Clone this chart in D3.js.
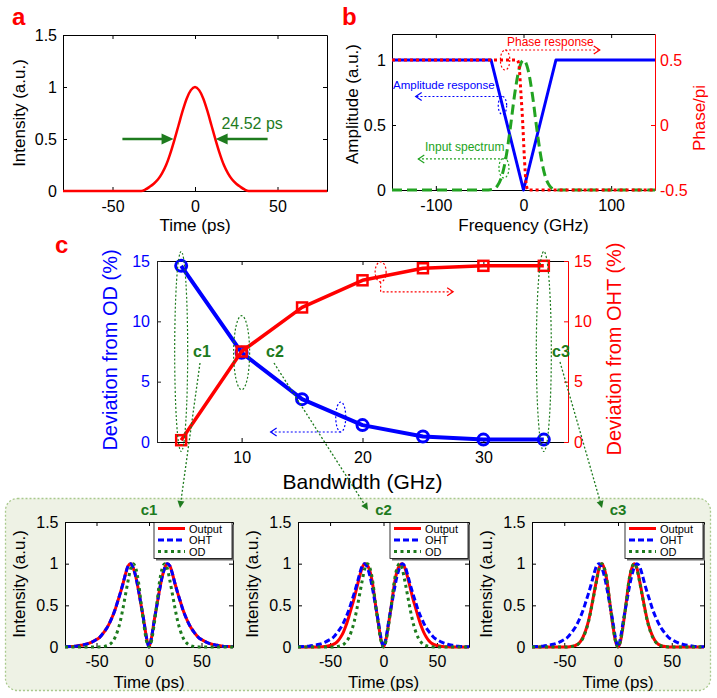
<!DOCTYPE html>
<html><head><meta charset="utf-8">
<script src="https://cdn.jsdelivr.net/npm/d3@7"></script>
<style>
body{margin:0;background:#fff;}
svg{display:block;}
</style></head><body>
<svg id="fig" width="717" height="698"></svg>
<script>
// ---------------- DATA ----------------
const timeGrid = [-80,-75,-70,-65,-60,-55,-50,-47.5,-45,-42.5,-40,-37.5,-35,-32.5,-30,-27.5,-25,-22.5,-20,-17.5,-15,-12.5,-10,-7.5,-5,-2.5,0,2.5,5,7.5,10,12.5,15,17.5,20,22.5,25,27.5,30,32.5,35,37.5,40,42.5,45,47.5,50,55,60,65,70,75,80];
const inputPulse = [0,0,0,0,0,0,0,0,0,0,0,0,0,0,0.015,0.04,0.07,0.11,0.17,0.25,0.36,0.49,0.63,0.77,0.89,0.97,1,0.97,0.89,0.77,0.63,0.49,0.36,0.25,0.17,0.11,0.07,0.04,0.015,0,0,0,0,0,0,0,0,0,0,0,0,0,0];
const ohtPulse = [0.002,0.005,0.01,0.02,0.033,0.055,0.09,0.11,0.145,0.185,0.23,0.29,0.36,0.44,0.54,0.64,0.75,0.87,0.97,1.0,0.95,0.84,0.68,0.5,0.32,0.12,0,0.12,0.32,0.5,0.68,0.84,0.95,1.0,0.97,0.87,0.75,0.64,0.54,0.44,0.36,0.29,0.23,0.185,0.145,0.11,0.09,0.055,0.033,0.02,0.01,0.005,0.002];
const odPulse = [0,0,0,0,0,0,0,0.001,0.003,0.007,0.015,0.03,0.06,0.11,0.19,0.3,0.45,0.62,0.79,0.94,1.0,0.94,0.78,0.52,0.28,0.08,0,0.08,0.28,0.52,0.78,0.94,1.0,0.94,0.79,0.62,0.45,0.3,0.19,0.11,0.06,0.03,0.015,0.007,0.003,0.001,0,0,0,0,0,0,0];
const outputC1 = [0.002,0.005,0.01,0.02,0.033,0.056,0.09,0.11,0.145,0.185,0.23,0.29,0.36,0.44,0.54,0.64,0.75,0.87,0.97,1.0,0.95,0.84,0.68,0.5,0.32,0.12,0,0.12,0.32,0.5,0.68,0.84,0.95,1.0,0.97,0.87,0.75,0.64,0.54,0.44,0.36,0.29,0.23,0.185,0.145,0.11,0.09,0.056,0.033,0.02,0.01,0.005,0.002];
const outputC2 = [0,0,0,0,0.002,0.007,0.018,0.028,0.045,0.075,0.12,0.18,0.26,0.36,0.47,0.58,0.71,0.84,0.95,1.0,0.98,0.9,0.74,0.51,0.3,0.1,0,0.1,0.3,0.51,0.74,0.9,0.98,1.0,0.95,0.84,0.71,0.58,0.47,0.36,0.26,0.18,0.12,0.075,0.045,0.028,0.018,0.007,0.002,0,0,0,0];
const outputC3 = [0,0,0,0,0,0,0,0.001,0.003,0.008,0.016,0.033,0.065,0.12,0.2,0.31,0.46,0.63,0.8,0.95,1.0,0.93,0.77,0.52,0.28,0.08,0,0.08,0.28,0.52,0.77,0.93,1.0,0.95,0.8,0.63,0.46,0.31,0.2,0.12,0.065,0.033,0.016,0.008,0.003,0.001,0,0,0,0,0,0,0];

const freqAmp = [-150,-37,0,37,150];
const ampResponse = [1,1,0,1,1];
const freqSpec = [-150,-40,-35,-30,-25,-20,-15,-10,-5,0,5,10,15,20,25,30,35,40,150];
const inputSpectrum = [0,0,0.005,0.03,0.1,0.25,0.48,0.74,0.93,1,0.93,0.74,0.48,0.25,0.1,0.03,0.005,0,0];
const freqPhase = [-150,-7,-5,-3,-1,1,3,5,150];
const phaseResponse = [0.5,0.5,0.45,0.25,0.03,-0.25,-0.45,-0.5,-0.5];

const bandwidth = [5,10,15,20,25,30,35];
const devFromOD = [14.6,7.4,3.55,1.4,0.45,0.2,0.2];
const devFromOHT = [0.15,7.5,11.15,13.4,14.4,14.6,14.6];

const ticksTime = [-50,0,50];
const ticksIntensity = [0,0.5,1,1.5];
const ticksFreq = [-100,0,100];
const ticksAmp = [0,0.5,1];
const ticksPhase = [-0.5,0,0.5];
const ticksBW = [10,20,30];
const ticksDev = [0,5,10,15];
const legendLabels = ["Output","OHT","OD"];

// ---------------- DRAWING ----------------
const FONT = "'Liberation Sans', Arial, Helvetica, sans-serif";
const svg = d3.select("#fig").attr("font-family", FONT);
const RED="#ff0000", BLUE="#0000ff", DGREEN="#1e7b1e", LGREEN="#22a322";

function frame(c){
  const x = d3.scaleLinear().domain(c.xd).range([c.l,c.r]);
  const y = d3.scaleLinear().domain(c.yd).range([c.b,c.t]);
  const g = svg.append("g");
  g.append("rect").attr("x",c.l).attr("y",c.t).attr("width",c.r-c.l).attr("height",c.b-c.t).attr("fill","#fff");
  const tl=4, fmt=d=>String(d);
  function style(sel,lc,tc){
    sel.attr("font-family",FONT).attr("font-size",c.fs);
    sel.selectAll(".domain").attr("stroke",lc);
    sel.selectAll(".tick line").attr("stroke",lc);
    sel.selectAll(".tick text").attr("fill",tc);
  }
  style(g.append("g").attr("transform",`translate(0,${c.b})`).call(d3.axisBottom(x).tickValues(c.xt).tickSizeInner(-tl).tickSizeOuter(0).tickPadding(c.xpad).tickFormat(fmt)),"#000","#000");
  style(g.append("g").attr("transform",`translate(0,${c.t})`).call(d3.axisTop(x).tickValues(c.xt).tickSizeInner(-tl).tickSizeOuter(0).tickFormat(()=>"")),"#000","#000");
  style(g.append("g").attr("transform",`translate(${c.l},0)`).call(d3.axisLeft(y).tickValues(c.yt).tickSizeInner(-tl).tickSizeOuter(0).tickPadding(c.ypad).tickFormat(fmt)),c.lc||"#000",c.ltc||"#000");
  let y2=null;
  if(c.y2){
    y2 = d3.scaleLinear().domain(c.y2.d).range([c.b,c.t]);
    style(g.append("g").attr("transform",`translate(${c.r},0)`).call(d3.axisRight(y2).tickValues(c.y2.t).tickSizeInner(-tl).tickSizeOuter(0).tickPadding(c.y2.pad).tickFormat(fmt)),c.y2.color,c.y2.color);
  } else {
    style(g.append("g").attr("transform",`translate(${c.r},0)`).call(d3.axisRight(y).tickValues(c.yt).tickSizeInner(-tl).tickSizeOuter(0).tickFormat(()=>"")),"#000","#000");
  }
  return {x,y,y2,c};
}
function text(x,y,s,o){
  o=o||{};
  return svg.append("text").attr("x",x).attr("y",y).attr("font-size",o.fs||16)
    .attr("fill",o.color||"#000").attr("text-anchor",o.anchor||"start")
    .attr("font-weight",o.bold?"bold":"normal").text(s);
}
function vtext(x,y,s,o){
  o=o||{};
  return svg.append("text").attr("transform",`translate(${x},${y}) rotate(-90)`)
    .attr("font-size",o.fs||17).attr("fill",o.color||"#000").attr("text-anchor","middle").text(s);
}
function curve(p, xs, ys, yScale, st){
  const pts = xs.map((v,i)=>[p.x(v), yScale(ys[i])]);
  svg.append("path").attr("d", d3.line().curve(st.curve||d3.curveMonotoneX)(pts))
    .attr("fill","none").attr("stroke",st.color).attr("stroke-width",st.w)
    .attr("stroke-dasharray",st.dash||null).attr("stroke-linejoin","round");
}
function dotted(pts,col,w){
  svg.append("path").attr("d",d3.line()(pts)).attr("fill","none").attr("stroke",col)
    .attr("stroke-width",w||1.2).attr("stroke-dasharray","2,2");
}
function ell(cx,cy,rx,ry,col){
  svg.append("ellipse").attr("cx",cx).attr("cy",cy).attr("rx",rx).attr("ry",ry)
    .attr("fill","none").attr("stroke",col).attr("stroke-width",1.2).attr("stroke-dasharray","2,2");
}
function chevron(x,y,dir,col){
  svg.append("path").attr("d",`M${x-dir*6},${y-4}L${x},${y}L${x-dir*6},${y+4}`)
    .attr("fill","none").attr("stroke",col).attr("stroke-width",1.2);
}
function filledHead(from,tip,len,hw,col){
  const a=Math.atan2(tip[1]-from[1],tip[0]-from[0]);
  const bx=tip[0]-len*Math.cos(a), by=tip[1]-len*Math.sin(a);
  const px=-Math.sin(a)*hw, py=Math.cos(a)*hw;
  svg.append("path").attr("d",`M${tip[0]},${tip[1]}L${bx+px},${by+py}L${bx-px},${by-py}Z`).attr("fill",col);
}

// ---- Panel a ----
const pa = frame({l:63,r:327,t:35,b:191,xd:[-80,80],yd:[0,1.5],xt:ticksTime,yt:ticksIntensity,fs:16,xpad:9.5,ypad:6});
curve(pa,timeGrid,inputPulse,pa.y,{color:RED,w:2.5});
text(12,25,"a",{fs:24,bold:true,color:RED});
text(195,231,"Time (ps)",{fs:17,anchor:"middle"});
vtext(25,113,"Intensity (a.u.)");
{
  const yy=pa.y(0.5);
  const l0=[pa.x(-44),yy], l1=[pa.x(-13),yy], r0=[pa.x(44),yy], r1=[pa.x(12.5),yy];
  svg.append("line").attr("x1",l0[0]).attr("y1",yy).attr("x2",l1[0]-6).attr("y2",yy).attr("stroke",DGREEN).attr("stroke-width",2.5);
  filledHead(l0,l1,12,5.5,DGREEN);
  svg.append("line").attr("x1",r0[0]).attr("y1",yy).attr("x2",r1[0]+6).attr("y2",yy).attr("stroke",DGREEN).attr("stroke-width",2.5);
  filledHead(r0,r1,12,5.5,DGREEN);
  text(pa.x(16),pa.y(0.6),"24.52 ps",{fs:16,color:DGREEN});
}

// ---- Panel b ----
const pb = frame({l:392,r:655,t:34,b:190,xd:[-150,150],yd:[0,1.2],xt:ticksFreq,yt:ticksAmp,fs:16,xpad:9.5,ypad:6,
  y2:{d:[-0.5,0.7],t:ticksPhase,color:RED,pad:5}});
curve(pb,freqAmp,ampResponse,pb.y,{color:BLUE,w:3,curve:d3.curveLinear});
curve(pb,freqSpec,inputSpectrum,pb.y,{color:LGREEN,w:3,dash:"10,5"});
curve(pb,freqPhase,phaseResponse,pb.y2,{color:RED,w:3,dash:"3,3"});
text(342,25,"b",{fs:24,bold:true,color:RED});
text(523.5,231,"Frequency (GHz)",{fs:17,anchor:"middle"});
vtext(358,104,"Amplitude (a.u.)");
vtext(705,118,"Phase/pi",{color:RED});
// annotations b
{
  const ex=pb.x(-21), ey=pb.y(1.0);
  ell(ex,ey,4.7,10,RED);
  dotted([[ex,ey-10],[pb.x(87),ey-10]],RED);
  chevron(pb.x(87),ey-10,1,RED);
  text(507,46,"Phase response",{fs:12,color:RED});

  const ax=pb.x(-24), ay=pb.y(0.65);
  ell(ax,ay,4.2,9,BLUE);
  dotted([[ax,ay-9],[pb.x(-123),ay-9]],BLUE);
  chevron(pb.x(-123),ay-9,-1,BLUE);
  text(393,89,"Amplitude response",{fs:11.5,color:BLUE});

  const sx=pb.x(-22.3), sy=pb.y(0.17);
  ell(sx,sy,5,10,LGREEN);
  dotted([[sx,sy-9],[pb.x(-120),sy-9]],LGREEN);
  chevron(pb.x(-120),sy-9,-1,LGREEN);
  text(425,151,"Input spectrum",{fs:12,color:LGREEN});
}

// ---- Panel c ----
const pc = frame({l:157,r:568,t:261,b:442,xd:[3,37],yd:[0,15],xt:ticksBW,yt:ticksDev,fs:16,xpad:9.5,ypad:7,
  lc:"#222",ltc:BLUE,y2:{d:[0,15],t:ticksDev,color:RED,pad:6}});
text(55,253,"c",{fs:24,bold:true,color:RED});
text(362.5,489,"Bandwidth (GHz)",{fs:21,anchor:"middle"});
vtext(117,350,"Deviation from OD (%)",{fs:20,color:BLUE});
vtext(621,349,"Deviation from OHT (%)",{fs:20,color:RED});
curve(pc,bandwidth,devFromOD,pc.y,{color:BLUE,w:4,curve:d3.curveLinear});
svg.append("g").selectAll("circle").data(bandwidth).join("circle")
  .attr("cx",d=>pc.x(d)).attr("cy",(d,i)=>pc.y(devFromOD[i])).attr("r",5.5)
  .attr("fill","none").attr("stroke",BLUE).attr("stroke-width",3);
curve(pc,bandwidth,devFromOHT,pc.y2,{color:RED,w:3.5,curve:d3.curveLinear});
svg.append("g").selectAll("rect").data(bandwidth).join("rect")
  .attr("x",d=>pc.x(d)-5).attr("y",(d,i)=>pc.y2(devFromOHT[i])-5).attr("width",10).attr("height",10)
  .attr("fill","none").attr("stroke",RED).attr("stroke-width",2.5);
// annotations c
ell(pc.x(5),pc.y(7.5),6.5,100,DGREEN);
ell(pc.x(10),pc.y(7.4),8,37,DGREEN);
ell(pc.x(35),pc.y(7.5),7.5,100,DGREEN);
text(193,357,"c1",{fs:16,bold:true,color:DGREEN});
text(266,357,"c2",{fs:16,bold:true,color:DGREEN});
text(552,357,"c3",{fs:16,bold:true,color:DGREEN});
{
  const bx=pc.x(18.2), by=pc.y(2.07);
  ell(bx,by,5,15,BLUE);
  dotted([[bx,by+15],[pc.x(12.4),by+15]],BLUE);
  chevron(pc.x(12.4),by+15,-1,BLUE);
  const rx=pc.x(21.5), ry=pc.y2(14.1);
  ell(rx,ry,5.5,10,RED);
  dotted([[rx,ry+10],[rx,ry+20],[pc.x(27.5),ry+20]],RED);
  chevron(pc.x(27.5),ry+20,1,RED);
}

// ---- Sub-panels c1, c2, c3 ----
svg.append("rect").attr("x",5.5).attr("y",498.5).attr("width",705).attr("height",192).attr("rx",12)
  .attr("fill","#eef2e5").attr("stroke","#a9c98d").attr("stroke-width",1.3).attr("stroke-dasharray","2,2");

const subDefs = [
  {l:65,r:233,name:"c1",out:outputC1,from:[200,363],tip:[180,508]},
  {l:298,r:469,name:"c2",out:outputC2,from:[274,363],tip:[368,510]},
  {l:532,r:704,name:"c3",out:outputC3,from:[560,362],tip:[602,508]}
];
subDefs.forEach(s=>{
  const p = frame({l:s.l,r:s.r,t:522,b:647,xd:[-80,80],yd:[0,1.5],xt:ticksTime,yt:ticksIntensity,fs:16,xpad:8.8,ypad:6.5});
  curve(p,timeGrid,s.out,p.y,{color:RED,w:3});
  curve(p,timeGrid,ohtPulse,p.y,{color:BLUE,w:3,dash:"6,3"});
  curve(p,timeGrid,odPulse,p.y,{color:DGREEN,w:3,dash:"3,3.5"});
  const cx=(s.l+s.r)/2;
  text(cx,688,"Time (ps)",{fs:17,anchor:"middle"});
  vtext(s.l-40,584,"Intensity (a.u.)");
  text(cx,515,s.name,{fs:15,bold:true,color:DGREEN,anchor:"middle"});
  // legend
  const L=s.r-79, T=522.5, W=78, H=36;
  svg.append("rect").attr("x",L+2).attr("y",T+2).attr("width",W).attr("height",H).attr("fill","#6a6a6a");
  svg.append("rect").attr("x",L).attr("y",T).attr("width",W).attr("height",H).attr("fill","#fff").attr("stroke","#000").attr("stroke-width",0.8);
  const styles=[{color:RED,dash:null},{color:BLUE,dash:"6,3"},{color:DGREEN,dash:"3,3.5"}];
  legendLabels.forEach((lab,i)=>{
    const yy=T+6+i*11.5;
    svg.append("line").attr("x1",L+4).attr("x2",L+31).attr("y1",yy).attr("y2",yy)
      .attr("stroke",styles[i].color).attr("stroke-width",3).attr("stroke-dasharray",styles[i].dash);
    text(L+35,yy+4,lab,{fs:11});
  });
  // pointer from panel c label
  dotted([s.from,[s.tip[0]+(s.from[0]-s.tip[0])*0.04,s.tip[1]-6]],DGREEN,1.3);
  filledHead(s.from,s.tip,7,3.5,DGREEN);
});
</script>
</body></html>
